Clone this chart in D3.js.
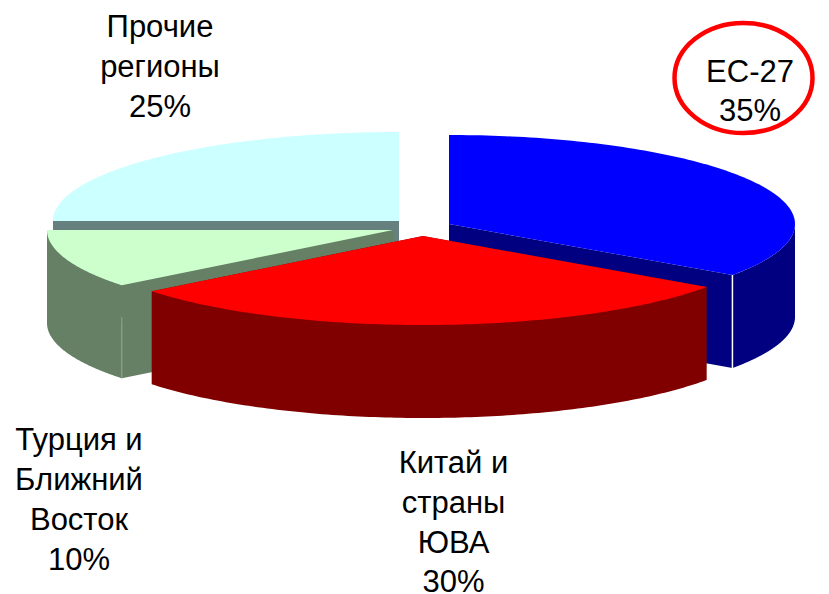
<!DOCTYPE html>
<html><head><meta charset="utf-8">
<script src="https://cdn.jsdelivr.net/npm/d3@7/dist/d3.min.js"></script>
<style>html,body{margin:0;padding:0;background:#fff}svg{display:block}
text{font-family:"Liberation Sans",Arial,sans-serif;font-size:31px;fill:#000;text-anchor:middle}</style>
</head><body><div id="c"></div>
<script>
const categories = ["ЕС-27", "Китай и страны ЮВА", "Турция и Ближний Восток", "Прочие регионы"];
const shares = [35, 30, 10, 25];
const topColors = ["#0000ff", "#ff0000", "#ccffcc", "#ccffff"];
const sideColors = ["#000080", "#800000", "#668066", "#668080"];
const labelLines = [["ЕС-27", "35%"], ["Китай и", "страны", "ЮВА", "30%"], ["Турция и", "Ближний", "Восток", "10%"], ["Прочие", "регионы", "25%"]];

const W = 829, H = 594;
const svg = d3.select("#c").append("svg").attr("width", W).attr("height", H);

// layout of the exploded 3D pie
const rx = 346, ry = 89, depth = 93;
const centers = [[449, 224], [423, 236], [393, 230], [399, 221]];
const labelPos = [[750, 82, 39], [453.5, 473, 39.8], [79, 450, 40], [160, 36.5, 40]];
const paintOrder = [3, 0, 2, 1];

const TAU = Math.PI * 2;
const arcs = d3.pie().sort(null).value(d => d).startAngle(0).endAngle(TAU)(shares);
// perspective squeezes the sweep slightly: pie angle -> drawn angle
const deg = d => d * Math.PI / 180;
const view = d3.scaleLinear()
  .domain([0, 126, 234, 270, 360].map(deg))
  .range([0, 125, 231.6, 270, 360].map(deg));
const px = d3.scaleLinear().domain([-1, 1]).range([-rx, rx]);
const py = d3.scaleLinear().domain([-1, 1]).range([-ry, ry]);
const pt = (c, a, dz = 0) => [c[0] + px(Math.sin(a)), c[1] + py(-Math.cos(a)) + dz];
const line = d3.line();
const sweep = (a0, a1) => d3.range(0, 121).map(i => a0 + (a1 - a0) * i / 120);

const g = svg.append("g");
paintOrder.forEach(i => {
  const c = centers[i];
  const a0 = view(arcs[i].startAngle), a1 = view(arcs[i].endAngle);
  [a0, a1].forEach(a => {
    g.append("path").attr("fill", sideColors[i])
      .attr("d", line([[c[0], c[1]], pt(c, a), pt(c, a, depth), [c[0], c[1] + depth]]) + "Z");
  });
  const w0 = Math.max(a0, Math.PI / 2), w1 = Math.min(a1, Math.PI * 1.5);
  if (w1 > w0) {
    const s = sweep(w0, w1);
    g.append("path").attr("fill", sideColors[i])
      .attr("d", line(s.map(a => pt(c, a)).concat(s.slice().reverse().map(a => pt(c, a, depth)))) + "Z");
  }
  g.append("path").attr("fill", topColors[i])
    .attr("d", line([[c[0], c[1]]].concat(sweep(a0, a1).map(a => pt(c, a)))) + "Z");
  // light seam on the outer corner
  const seamStart = i === 0 ? 0 : (i === 2 ? 32 : null);
  if (seamStart !== null) {
    const p = pt(c, i === 0 ? a1 : a0);
    g.append("line").attr("x1", p[0]).attr("x2", p[0])
      .attr("y1", p[1] + seamStart).attr("y2", p[1] + depth)
      .attr("stroke", i === 0 ? "#fff" : "#8fa58f").attr("stroke-width", i === 0 ? 1.5 : 1);
  }
});

const t = svg.append("g");
labelLines.forEach((lines, i) => {
  const [x, y, dy] = labelPos[i];
  lines.forEach((s, j) => t.append("text").attr("x", x).attr("y", y + j * dy).text(s));
});
svg.append("ellipse").attr("cx", 743.5).attr("cy", 78).attr("rx", 69).attr("ry", 55)
  .attr("fill", "none").attr("stroke", "#ff0000").attr("stroke-width", 4.5);
</script></body></html>
